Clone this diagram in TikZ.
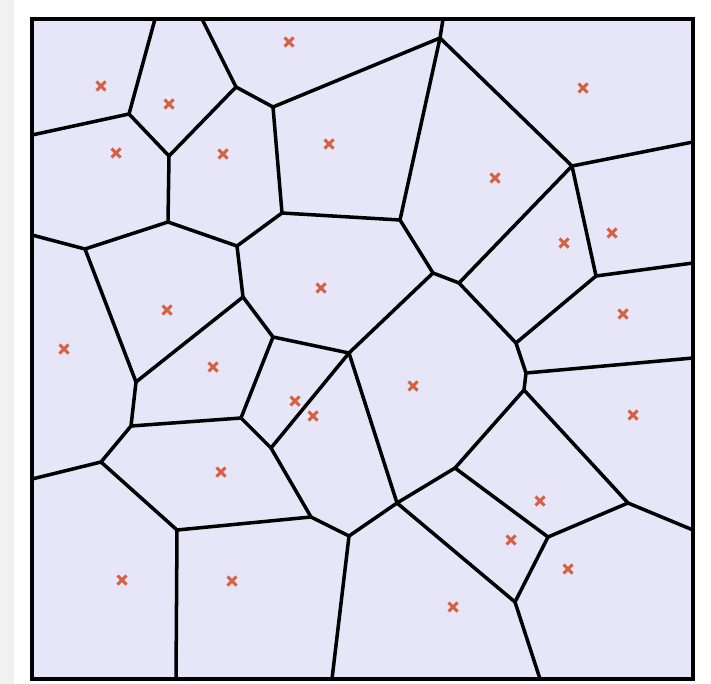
\documentclass[tikz,border=0pt]{standalone}
\definecolor{cellfill}{RGB}{230,230,248}
\definecolor{sitered}{RGB}{215,96,66}
\definecolor{stripgray}{RGB}{241,241,241}
\tikzset{
  cell edge/.style={line width=3pt, line join=round, line cap=round},
  site mark/.style={sitered, line width=2.6pt}
}
\begin{document}
\begin{tikzpicture}[x=0.03cm, y=-0.03cm]
  \useasboundingbox (0,0) rectangle (711,684);
  % grey strip on the left
  \fill[stripgray] (0,0) rectangle (14,684);
  % cells
  \fill[cellfill] (32,19) rectangle (693,679);
  % voronoi vertices
  \coordinate (v1) at (129,114);
  \coordinate (v2) at (169,156);
  \coordinate (v3) at (236,87);
  \coordinate (v4) at (273,107);
  \coordinate (v5) at (168,222);
  \coordinate (v6) at (282,213);
  \coordinate (v7) at (440,38);
  \coordinate (v8) at (400,220);
  \coordinate (v9) at (572,166);
  \coordinate (v10) at (596,276);
  \coordinate (v11) at (433,273);
  \coordinate (v12) at (459,283);
  \coordinate (v13) at (349,353);
  \coordinate (v14) at (516,343);
  \coordinate (v15) at (526,373);
  \coordinate (v16) at (524,390);
  \coordinate (v17) at (455,468);
  \coordinate (v18) at (628,503);
  \coordinate (v19) at (397,503);
  \coordinate (v20) at (349,536);
  \coordinate (v21) at (515,602);
  \coordinate (v22) at (548,537);
  \coordinate (v23) at (101,462);
  \coordinate (v24) at (131,426);
  \coordinate (v25) at (177,530);
  \coordinate (v26) at (311,517);
  \coordinate (v27) at (271,448);
  \coordinate (v28) at (85,249);
  \coordinate (v29) at (237,246);
  \coordinate (v30) at (243,297);
  \coordinate (v31) at (136,382);
  \coordinate (v32) at (273,337);
  \coordinate (v33) at (241,418);
  % ends on the frame
  \coordinate (t1) at (155,19);
  \coordinate (t2) at (202,19);
  \coordinate (t3) at (443,19);
  \coordinate (r1) at (693,142);
  \coordinate (r2) at (693,263);
  \coordinate (r3) at (693,358);
  \coordinate (r4) at (693,530);
  \coordinate (b1) at (176,679);
  \coordinate (b2) at (332,679);
  \coordinate (b3) at (540,679);
  \coordinate (l1) at (32,135);
  \coordinate (l2) at (32,235);
  \coordinate (l3) at (32,479);
  % edges
  \draw[cell edge] (l1) -- (v1) -- (t1);
  \draw[cell edge] (v1) -- (v2) -- (v3) -- (t2);
  \draw[cell edge] (v3) -- (v4) -- (v7) -- (t3);
  \draw[cell edge] (v4) -- (v6) -- (v8) -- (v7) -- (v9) -- (r1);
  \draw[cell edge] (v2) -- (v5) -- (v29) -- (v6);
  \draw[cell edge] (l2) -- (v28) -- (v5);
  \draw[cell edge] (v28) -- (v31) -- (v30) -- (v29);
  \draw[cell edge] (v30) -- (v32) -- (v13) -- (v11) -- (v8);
  \draw[cell edge] (v11) -- (v12) -- (v9) -- (v10) -- (r2);
  \draw[cell edge] (v12) -- (v14) -- (v10);
  \draw[cell edge] (v14) -- (v15) -- (r3);
  \draw[cell edge] (v15) -- (v16) -- (v17) -- (v19) -- (v13);
  \draw[cell edge] (v16) -- (v18) -- (r4);
  \draw[cell edge] (v17) -- (v22) -- (v18);
  \draw[cell edge] (v22) -- (v21) -- (b3);
  \draw[cell edge] (v19) -- (v21);
  \draw[cell edge] (v19) -- (v20) -- (b2);
  \draw[cell edge] (v20) -- (v26) -- (v25) -- (b1);
  \draw[cell edge] (v25) -- (v23) -- (l3);
  \draw[cell edge] (v23) -- (v24) -- (v31);
  \draw[cell edge] (v24) -- (v33) -- (v32);
  \draw[cell edge] (v33) -- (v27) -- (v13);
  \draw[cell edge] (v27) -- (v26);
  % frame
  \draw[line width=3.2pt] (32,19) rectangle (693,679);
  % sites
  \foreach \x/\y in {101/86, 169/104, 289/42, 583/88, 116/153, 223/154,
      329/144, 495/178, 564/243, 612/233, 167/310, 321/288, 623/314,
      64/349, 213/367, 413/386, 295/401, 313/416, 633/415, 221/472,
      540/501, 511/540, 568/569, 122/580, 232/581, 453/607}
    \draw[site mark] (\x-4.5,\y-4.5) -- (\x+4.5,\y+4.5) (\x-4.5,\y+4.5) -- (\x+4.5,\y-4.5);
\end{tikzpicture}
\end{document}
